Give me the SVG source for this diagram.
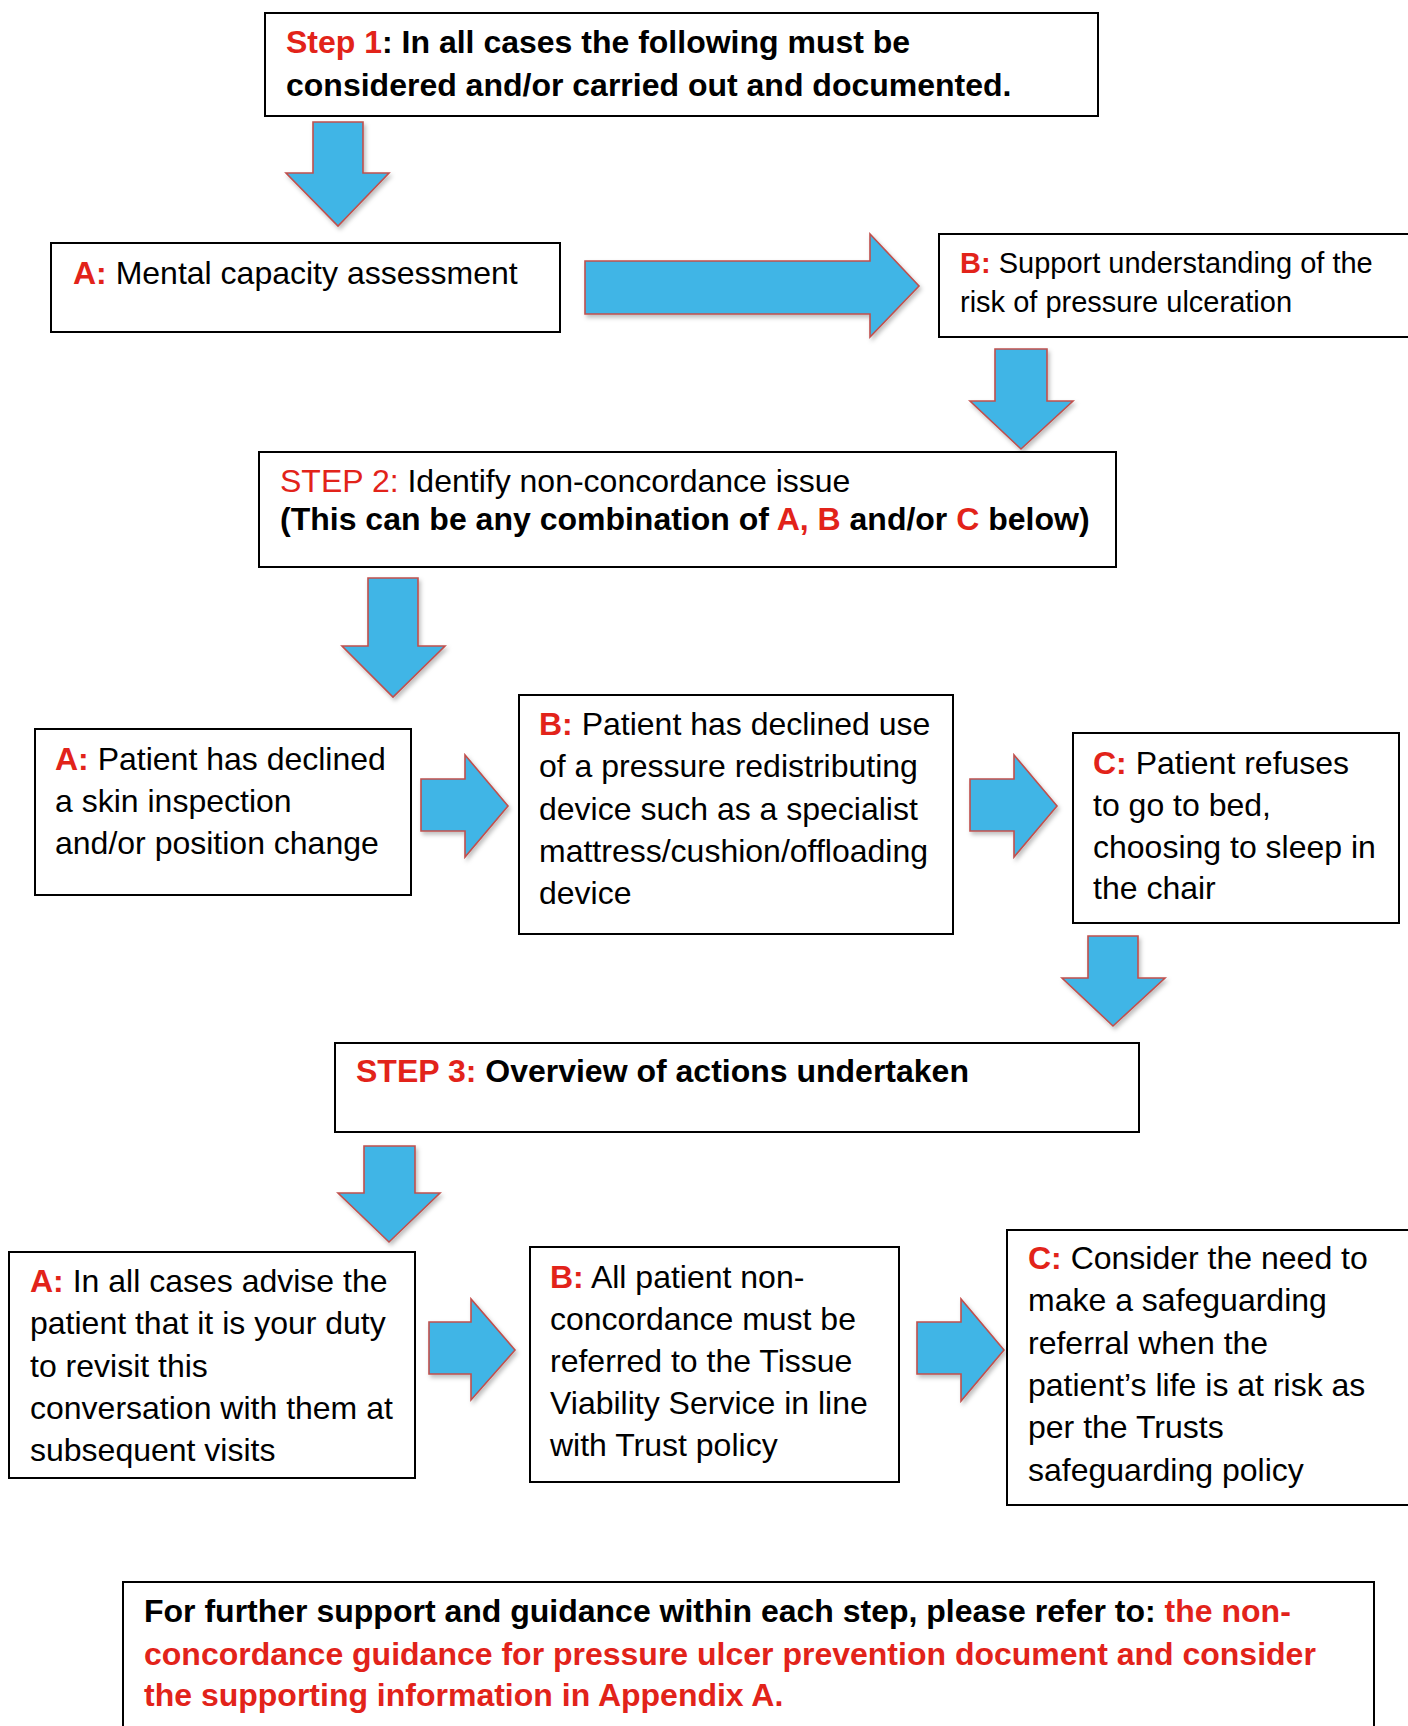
<svg xmlns="http://www.w3.org/2000/svg" width="1408" height="1726" viewBox="0 0 1408 1726">
<style>
.box{fill:#fff;stroke:#000;stroke-width:2}
.arr{fill:#41b5e6;stroke:#c0504d;stroke-width:1.6;stroke-linejoin:miter}
text{font-family:"Liberation Sans",Arial,sans-serif;font-size:32px;fill:#000}
.b{font-weight:bold}
.r{fill:#e2231a}
.s{font-size:29px}
</style>
<defs>
<filter id="sh" x="-10%" y="-10%" width="130%" height="130%">
<feDropShadow dx="2" dy="3" stdDeviation="2" flood-color="#000" flood-opacity="0.25"/>
</filter>
</defs>
<rect width="1408" height="1726" fill="#fff"/>
<g id="connectors">
<path class="arr" filter="url(#sh)" d="M313,122 H363 V173 H389 L338,226 L286,173 H313 Z"/>
<path class="arr" filter="url(#sh)" d="M585,261 H870 V234 L919,286 L870,337 V314 H585 Z"/>
<path class="arr" filter="url(#sh)" d="M995,349 H1047 V401 H1073 L1021,449 L970,401 H995 Z"/>
<path class="arr" filter="url(#sh)" d="M368,578 H418 V646 H445 L393,697 L342,646 H368 Z"/>
<path class="arr" filter="url(#sh)" d="M421,779 H465 V755 L508,806 L465,857 V831 H421 Z"/>
<path class="arr" filter="url(#sh)" d="M970,779 H1014 V755 L1057,806 L1014,857 V831 H970 Z"/>
<path class="arr" filter="url(#sh)" d="M1088,936 H1138 V978 H1165 L1113,1026 L1062,978 H1088 Z"/>
<path class="arr" filter="url(#sh)" d="M364,1146 H415 V1193 H440 L389,1242 L338,1193 H364 Z"/>
<path class="arr" filter="url(#sh)" d="M429,1322 H471 V1299 L515,1350 L471,1400 V1374 H429 Z"/>
<path class="arr" filter="url(#sh)" d="M917,1322 H961 V1299 L1004,1350 L961,1401 V1374 H917 Z"/>
</g>
<g id="step1">
<rect class="box" x="265" y="13" width="833" height="103"/>
<text class="b" x="286" y="53"><tspan class="r">Step 1</tspan>: In all cases the following must be</text>
<text class="b" x="286" y="96">considered and/or carried out and documented.</text>
</g>
<g id="s1a">
<rect class="box" x="51" y="243" width="509" height="89"/>
<text x="73" y="284"><tspan class="r b">A:</tspan> Mental capacity assessment</text>
</g>
<g id="s1b">
<rect class="box" x="939" y="234" width="475" height="103"/>
<text class="s" x="960" y="273"><tspan class="r b">B:</tspan> Support understanding of the</text>
<text class="s" x="960" y="312">risk of pressure ulceration</text>
</g>
<g id="step2">
<rect class="box" x="259" y="452" width="857" height="115"/>
<text x="280" y="492"><tspan class="r">STEP 2:</tspan> Identify non-concordance issue</text>
<text class="b" x="280" y="530">(This can be any combination of <tspan class="r">A, B</tspan> and/or <tspan class="r">C</tspan> below)</text>
</g>
<g id="s2a">
<rect class="box" x="35" y="729" width="376" height="166"/>
<text x="55" y="770"><tspan class="r b">A:</tspan> Patient has declined</text>
<text x="55" y="812">a skin inspection</text>
<text x="55" y="854">and/or position change</text>
</g>
<g id="s2b">
<rect class="box" x="519" y="695" width="434" height="239"/>
<text x="539" y="735"><tspan class="r b">B:</tspan> Patient has declined use</text>
<text x="539" y="777">of a pressure redistributing</text>
<text x="539" y="820">device such as a specialist</text>
<text x="539" y="862">mattress/cushion/offloading</text>
<text x="539" y="904">device</text>
</g>
<g id="s2c">
<rect class="box" x="1073" y="733" width="326" height="190"/>
<text x="1093" y="774"><tspan class="r b">C:</tspan> Patient refuses</text>
<text x="1093" y="816">to go to bed,</text>
<text x="1093" y="858">choosing to sleep in</text>
<text x="1093" y="899">the chair</text>
</g>
<g id="step3">
<rect class="box" x="335" y="1043" width="804" height="89"/>
<text class="b" x="356" y="1082"><tspan class="r">STEP 3:</tspan> Overview of actions undertaken</text>
</g>
<g id="s3a">
<rect class="box" x="9" y="1252" width="406" height="226"/>
<text x="30" y="1292"><tspan class="r b">A:</tspan> In all cases advise the</text>
<text x="30" y="1334">patient that it is your duty</text>
<text x="30" y="1377">to revisit this</text>
<text x="30" y="1419">conversation with them at</text>
<text x="30" y="1461">subsequent visits</text>
</g>
<g id="s3b">
<rect class="box" x="530" y="1247" width="369" height="235"/>
<text x="550" y="1288"><tspan class="r b">B:</tspan> All patient non-</text>
<text x="550" y="1330">concordance must be</text>
<text x="550" y="1372">referred to the Tissue</text>
<text x="550" y="1414">Viability Service in line</text>
<text x="550" y="1456">with Trust policy</text>
</g>
<g id="s3c">
<rect class="box" x="1007" y="1230" width="410" height="275"/>
<text x="1028" y="1269"><tspan class="r b">C:</tspan> Consider the need to</text>
<text x="1028" y="1311">make a safeguarding</text>
<text x="1028" y="1354">referral when the</text>
<text x="1028" y="1396">patient’s life is at risk as</text>
<text x="1028" y="1438">per the Trusts</text>
<text x="1028" y="1481">safeguarding policy</text>
</g>
<g id="footer">
<rect class="box" x="123" y="1582" width="1251" height="160"/>
<text class="b" x="144" y="1622">For further support and guidance within each step, please refer to: <tspan class="r">the non-</tspan></text>
<text class="b r" x="144" y="1665">concordance guidance for pressure ulcer prevention document and consider</text>
<text class="b r" x="144" y="1706">the supporting information in Appendix A.</text>
</g>
</svg>
